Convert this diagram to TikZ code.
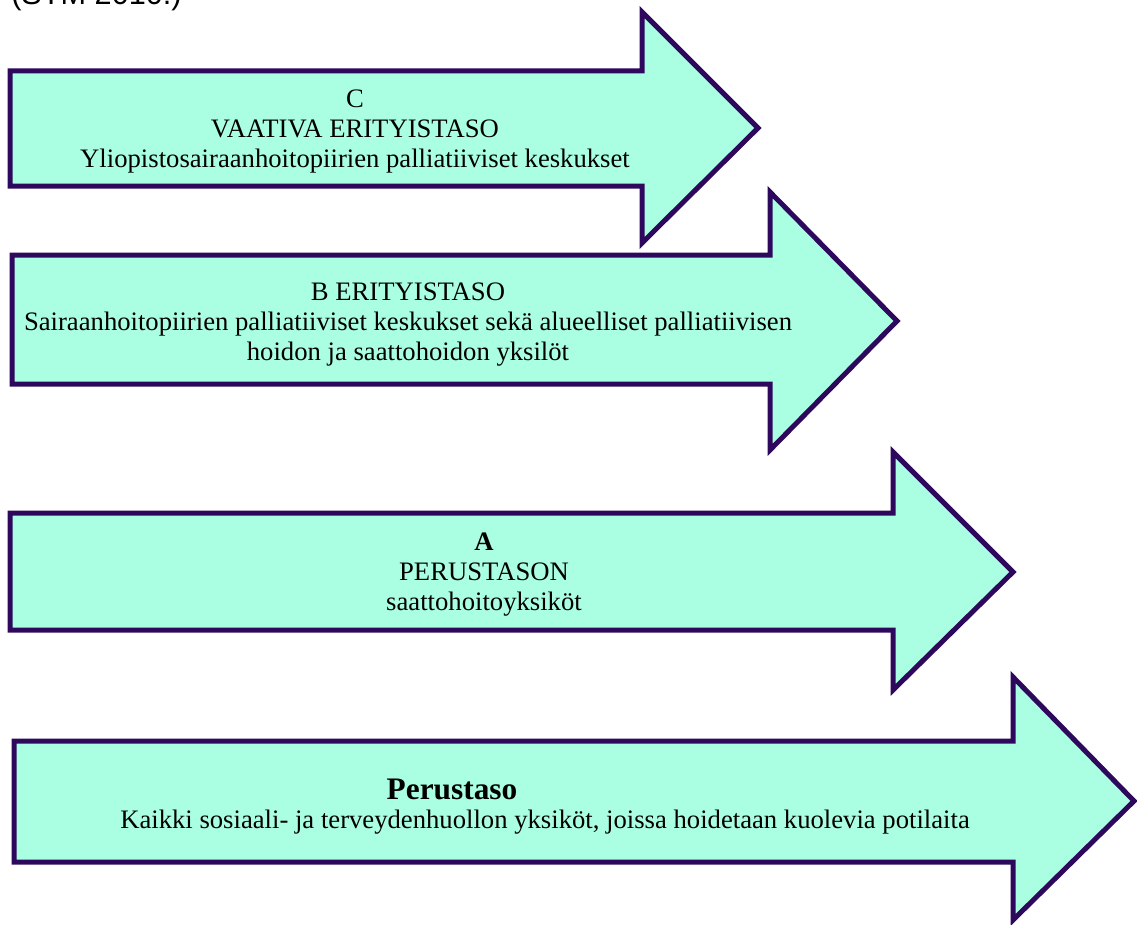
\documentclass[tikz,border=0pt]{standalone}
\usepackage{fontspec}
\setmainfont{Liberation Serif}
\setsansfont{Liberation Sans}
\usetikzlibrary{positioning}

\definecolor{tasofill}{RGB}{170,255,226}
\definecolor{tasoline}{RGB}{46,8,92}

\tikzset{
  levelarrow/.style={fill=tasofill, draw=tasoline, line width=3.75pt, line join=miter},
  leveltext/.style={align=center, inner sep=0pt, anchor=base,
    font=\fontsize{20}{22.5}\selectfont},
}

\begin{document}
\begin{tikzpicture}[x=0.75pt,y=-0.75pt]
\useasboundingbox (0,0) rectangle (1137,924);
% source line, cut off at the top edge
\node[anchor=base west, inner sep=0pt, font=\sffamily\fontsize{23}{23}\selectfont] (source) at (11,5) {(STM 2010.)};
% C
\draw[levelarrow] (10,71) -- (642,71) -- (642,12) -- (758,128) -- (642,243) -- (642,186) -- (10,186) -- cycle;
\node[leveltext] (tasoC) at (355,167) {C\\VAATIVA ERITYISTASO\\Yliopistosairaanhoitopiirien palliatiiviset keskukset};
% B
\draw[levelarrow] (12,255) -- (770,255) -- (770,192) -- (897,321) -- (770,450) -- (770,384) -- (12,384) -- cycle;
\node[leveltext] (tasoB) at (408,360) {B ERITYISTASO\\Sairaanhoitopiirien palliatiiviset keskukset sekä alueelliset palliatiivisen\\hoidon ja saattohoidon yksilöt};
% A
\draw[levelarrow] (10,513) -- (893,513) -- (893,452) -- (1013,572) -- (893,690) -- (893,630) -- (10,630) -- cycle;
\node[leveltext] (tasoA) at (484,610) {\textbf{A}\\PERUSTASON\\saattohoitoyksiköt};
% perustaso
\draw[levelarrow] (14,741) -- (1013,741) -- (1013,677) -- (1134,801) -- (1013,920) -- (1013,862) -- (14,862) -- cycle;
\node[leveltext, font=\bfseries\fontsize{23.5}{23.5}\selectfont] (perus) at (452,799) {Perustaso};
\node[leveltext] (perusText) at (545,828) {Kaikki sosiaali- ja terveydenhuollon yksiköt, joissa hoidetaan kuolevia potilaita};
\end{tikzpicture}
\end{document}
